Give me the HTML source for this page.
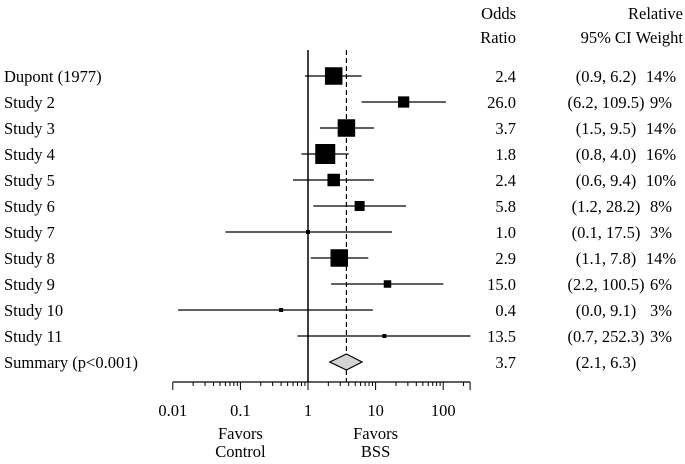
<!DOCTYPE html>
<html><head><meta charset="utf-8"><style>
body{margin:0;background:#fff}
text{font-family:"Liberation Serif","Times New Roman",serif;font-size:16.5px;fill:#000}
</style></head><body>
<svg id="c" width="685" height="459">
<g id="g"></g>
</svg>
<script>
const labels=["Dupont (1977)","Study 2","Study 3","Study 4","Study 5","Study 6","Study 7","Study 8","Study 9","Study 10","Study 11"];
const orVals=[2.4,26.0,3.7,1.8,2.4,5.8,1.0,2.9,15.0,0.4,13.5];
const lowVals=[0.9,6.2,1.5,0.8,0.6,1.2,0.1,1.1,2.2,0.0,0.7];
const highVals=[6.2,109.5,9.5,4.0,9.4,28.2,17.5,7.8,100.5,9.1,252.3];
const weights=[14,9,14,16,10,8,3,14,6,3,3];
const lowDraw=[0.9,6.2,1.5,0.8,0.6,1.2,0.06,1.1,2.2,0.012,0.7];
const summary=[3.7,2.1,6.3];
const tickLabels=["0.01","0.1","1","10","100"];
const tickVals=[0.01,0.1,1,10,100];
const NS="http://www.w3.org/2000/svg";
const g=document.getElementById('g');
const X=v=>308+67.6*Math.log10(v);
const Y=i=>76+26*i;
function mk(t,a,txt){const e=document.createElementNS(NS,t);for(const k in a)e.setAttribute(k,a[k]);if(txt!==undefined)e.textContent=txt;g.appendChild(e);return e;}
function fmt(v){return v.toFixed(1);}
let e;
e=mk('text',{x:516,y:19,'text-anchor':'end'},'Odds');


e=mk('text',{x:516,y:43,'text-anchor':'end'},'Ratio');


e=mk('text',{x:606,y:43,'text-anchor':'middle'},'95% CI');


e=mk('text',{x:683,y:19,'text-anchor':'end'},'Relative');


e=mk('text',{x:683,y:43,'text-anchor':'end'},'Weight');


e=mk('line',{x1:X(1),x2:X(1),y1:50,y2:382,stroke:'#000','stroke-width':1.5});


e=mk('line',{x1:X(summary[0]),x2:X(summary[0]),y1:50,y2:382,stroke:'#000','stroke-width':1.2,'stroke-dasharray':'5,3'});


labels.forEach((l,i)=>{
 const y=Y(i);
 e=mk('text',{x:4,y:y+6},l);
 
 
 e=mk('line',{x1:X(lowDraw[i]),x2:X(highVals[i]),y1:y,y2:y,stroke:'#000','stroke-width':1.3});
 
 
 const s=Math.max(4,weights[i]*1.25);
 e=mk('rect',{x:X(orVals[i])-s/2,y:y-s/2,width:s,height:s,fill:'#000'});
 
 
 e=mk('text',{x:516,y:y+6,'text-anchor':'end'},fmt(orVals[i]));
 
 
 e=mk('text',{x:606,y:y+6,'text-anchor':'middle'},'('+fmt(lowVals[i])+', '+fmt(highVals[i])+')');
 
 
 e=mk('text',{x:661,y:y+6,'text-anchor':'middle'},weights[i]+'%');
 
 
});
const sy=Y(11);
e=mk('text',{x:4,y:sy+6},'Summary (p<0.001)');


e=mk('polygon',{points:`${X(summary[1])},${sy} ${X(summary[0])},${sy-8} ${X(summary[2])},${sy} ${X(summary[0])},${sy+8}`,fill:'#d3d3d3',stroke:'#000','stroke-width':1.2});


e=mk('text',{x:516,y:sy+6,'text-anchor':'end'},fmt(summary[0]));


e=mk('text',{x:606,y:sy+6,'text-anchor':'middle'},'('+fmt(summary[1])+', '+fmt(summary[2])+')');


e=mk('line',{x1:X(0.01),x2:X(250),y1:382,y2:382,stroke:'#000','stroke-width':1.3});


for(let d=-2;d<=2;d++){for(let m=1;m<=9;m++){const v=m*Math.pow(10,d);if(v>250)break;
 e=mk('line',{x1:X(v),x2:X(v),y1:382,y2:382+(m===1?8:4),stroke:'#000','stroke-width':1});
 
 }}
e=mk('line',{x1:X(250),x2:X(250),y1:382,y2:390,stroke:'#000','stroke-width':1});


tickVals.forEach((v,i)=>{
 e=mk('text',{x:X(v),y:416,'text-anchor':'middle'},tickLabels[i]);
 
 
});
[['Favors',X(0.1),441],['Control',X(0.1),459],['Favors',X(10),441],['BSS',X(10),459]].forEach(a=>{
 e=mk('text',{x:a[1],y:a[2]-2,'text-anchor':'middle'},a[0]);
 
 
});
</script>
</body></html>
